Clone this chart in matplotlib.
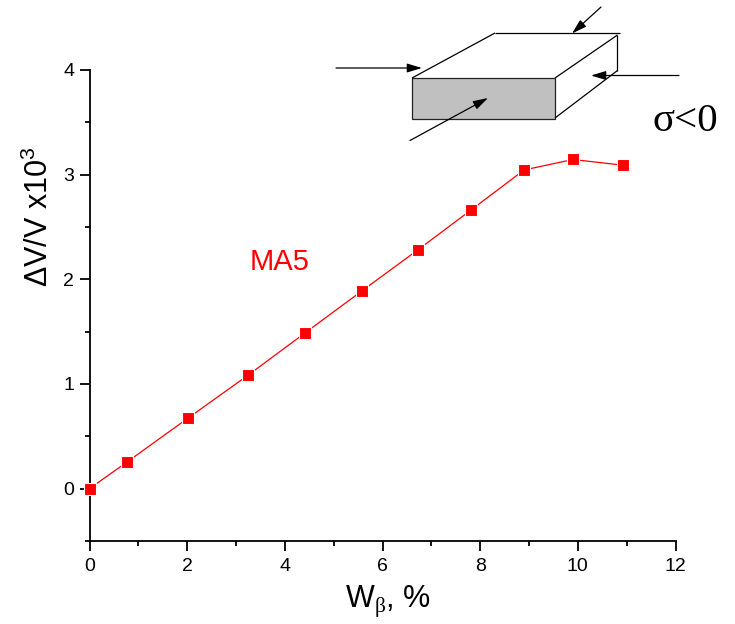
import matplotlib
matplotlib.use('Agg')
import matplotlib.pyplot as plt
from matplotlib.patches import Rectangle
from matplotlib.ticker import MultipleLocator

plt.rcParams['font.family'] = ['Liberation Sans', 'DejaVu Sans']
plt.rcParams['mathtext.fontset'] = 'custom'
plt.rcParams['mathtext.rm'] = 'Liberation Sans'
plt.rcParams['mathtext.bf'] = 'Liberation Serif'
plt.rcParams['mathtext.default'] = 'rm'

w_beta = [0.0, 0.77, 2.02, 3.25, 4.42, 5.58, 6.72, 7.82, 8.9, 9.9, 10.93]
dv_v = [0.0, 0.255, 0.675, 1.085, 1.49, 1.89, 2.28, 2.665, 3.045, 3.145, 3.09]
x_ticks = [0, 2, 4, 6, 8, 10, 12]
y_ticks = [0, 1, 2, 3, 4]

W, H = 735, 624
fig = plt.figure(figsize=(W / 100, H / 100), dpi=100, facecolor='white')
ax = fig.add_axes([89.5 / W, 1 - 541 / H, 586 / W, 471 / H])
ax.plot(w_beta, dv_v, '-', color='#ff0000', lw=0.9, marker='s', ms=8.5, mfc='#ff0000',
        mec='white', mew=0.8, clip_on=False, zorder=3)
ax.set_xlim(0, 12)
ax.set_ylim(-0.5, 4)
ax.set_xticks(x_ticks)
ax.set_yticks(y_ticks)
ax.xaxis.set_minor_locator(MultipleLocator(1))
ax.yaxis.set_minor_locator(MultipleLocator(0.5))
for s in ('top', 'right'):
    ax.spines[s].set_visible(False)
for s in ('left', 'bottom'):
    ax.spines[s].set_linewidth(1.3)
ax.tick_params(which='major', length=7, width=1.3, labelsize=14, pad=4, colors='black')
ax.tick_params(axis='x', which='major', pad=5)
ax.tick_params(which='minor', length=3.5, width=1.3)
ax.set_xlabel(r'W$_{\mathbf{β}}$, %', fontsize=22)
ax.xaxis.set_label_coords((388 - 89.5) / 586, 1 - (608 - 70) / 471)
ax.xaxis.label.set_va('baseline')
ax.set_ylabel(r'ΔV/V x10$^{3}$', fontsize=22)
ax.yaxis.set_label_coords((55 - 89.5) / 586, 1 - (217 - 70) / 471)
ax.text(3.9, 2.17, 'MA5', color='#ff0000', fontsize=21, ha='center', va='center')

# Schematic overlay in pixel coordinates of the reference
ov = fig.add_axes([0, 0, 1, 1], facecolor='none')
ov.set_xlim(0, W)
ov.set_ylim(H, 0)
ov.axis('off')
ov.add_patch(Rectangle((412.3, 78.3), 143, 41, fc='#c0c0c0', ec='#222222', lw=0.9))
edges = [((412, 78), (495, 33)), ((495, 33), (620, 33)), ((555, 78), (617.5, 35)),
         ((617.5, 35), (617.5, 70.5)), ((555, 118), (617.5, 70.5))]
for a, b in edges:
    ov.plot([a[0], b[0]], [a[1], b[1]], color='black', lw=0.9, solid_capstyle='butt')
arrows = [((336, 68), (422, 68)), ((601, 7), (572, 33.5)), ((679, 75.5), (591, 75.5)), ((410, 140.5), (488, 98))]
for a, b in arrows:
    ov.annotate('', xy=b, xytext=a, arrowprops=dict(arrowstyle='-|>,head_length=0.9,head_width=0.27',
                color='black', lw=0.9, shrinkA=0, shrinkB=0))
ov.text(685.5, 131, 'σ<0', family='Liberation Serif', fontsize=29.5, ha='center', va='baseline')

fig.savefig('out.png', dpi=100)
